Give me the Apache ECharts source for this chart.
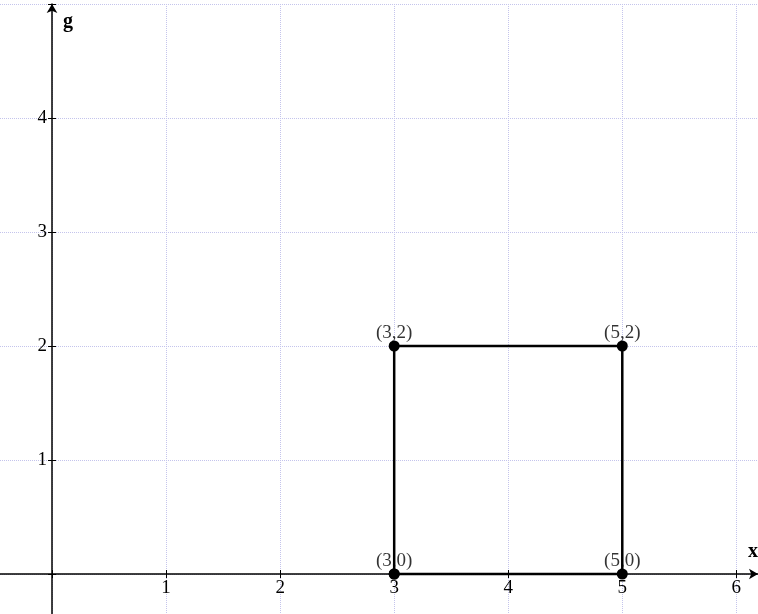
<!DOCTYPE html>
<html>
<head>
<meta charset="utf-8">
<script src="https://cdn.jsdelivr.net/npm/echarts@6/dist/echarts.min.js"></script>
<style>
  html, body { margin: 0; padding: 0; background: #fff; }
  #chart { width: 758px; height: 614px; }
</style>
</head>
<body>
<div id="chart"></div>
<script>
// square vertices, closed path
const squareX = [3, 3, 5, 5, 3];
const squareY = [0, 2, 2, 0, 0];
const pointLabels = ["(3,0)", "(3,2)", "(5,2)", "(5,0)"];
const xTickLabels = ["1", "2", "3", "4", "5", "6"];
const yTickLabels = ["1", "2", "3", "4"];

const serif = "Liberation Serif";
const gridColor = "#c4c4ec";

const chart = echarts.init(document.getElementById("chart"));

function tickText(list) {
  return function (v) {
    const s = String(Math.round(v));
    return Math.abs(v - Math.round(v)) < 1e-6 && list.indexOf(s) >= 0 ? s : "";
  };
}

// the grid starts one unit below/left of zero, so the axes are pulled in by one unit (114px)
const xBase = { type: "value", min: -1, max: 6.19, interval: 1, position: "bottom", offset: -114 };
const yBase = { type: "value", min: -1, max: 5, interval: 1, position: "left", offset: -114 };
const tickStyle = { color: "#000", width: 1 };

const option = {
  animation: false,
  grid: { left: -62, right: 0, top: 4, bottom: -74, outerBoundsMode: "none", containLabel: false },
  xAxis: [
    {
      ...xBase,
      axisLine: { onZero: false, lineStyle: { color: "#000", width: 1.5 }, symbol: ["none", "arrow"], symbolSize: [8, 9] },
      axisTick: { show: true, length: 4, lineStyle: tickStyle },
      axisLabel: {
        color: "#000",
        fontFamily: serif,
        fontSize: 19,
        margin: 5,
        formatter: tickText(xTickLabels),
      },
      splitLine: { show: true, lineStyle: { color: gridColor, type: [1, 1], width: 1 } },
    },
    {
      ...xBase,
      axisLine: { show: false, onZero: false },
      axisTick: { show: true, inside: true, length: 4, lineStyle: tickStyle },
      axisLabel: { show: false },
      splitLine: { show: false },
    },
  ],
  yAxis: [
    {
      ...yBase,
      axisLine: { onZero: false, lineStyle: { color: "#000", width: 1.5 }, symbol: ["none", "arrow"], symbolSize: [8, 9] },
      axisTick: { show: true, length: 4, lineStyle: tickStyle },
      axisLabel: {
        color: "#000",
        fontFamily: serif,
        fontSize: 19,
        margin: 5,
        formatter: tickText(yTickLabels),
      },
      splitLine: { show: true, lineStyle: { color: gridColor, type: [1, 1], width: 1 } },
    },
    {
      ...yBase,
      axisLine: { show: false, onZero: false },
      axisTick: { show: true, inside: true, length: 4, lineStyle: tickStyle },
      axisLabel: { show: false },
      splitLine: { show: false },
    },
  ],
  graphic: [
    {
      type: "text",
      left: 63,
      top: 12,
      style: { text: "g", font: "bold 20px 'Liberation Serif'", fill: "#000" },
    },
    {
      type: "text",
      left: 748,
      top: 542,
      style: { text: "x", font: "bold 20px 'Liberation Serif'", fill: "#000" },
    },
  ],
  series: [
    {
      // labels drawn underneath the square's edges
      type: "scatter",
      z: 1,
      symbolSize: 0,
      data: pointLabels.map((t, i) => ({ value: [squareX[i], squareY[i]], name: t })),
      label: {
        show: true,
        position: "top",
        distance: 3,
        formatter: "{b}",
        color: "#000",
        fontFamily: serif,
        fontSize: 19,
      },
    },
    {
      type: "line",
      z: 5,
      data: squareX.map((x, i) => [x, squareY[i]]),
      symbol: "circle",
      symbolSize: 11,
      showAllSymbol: true,
      itemStyle: { color: "#000" },
      lineStyle: { color: "#000", width: 2.5 },
    },
  ],
};

chart.setOption(option);
</script>
</body>
</html>
